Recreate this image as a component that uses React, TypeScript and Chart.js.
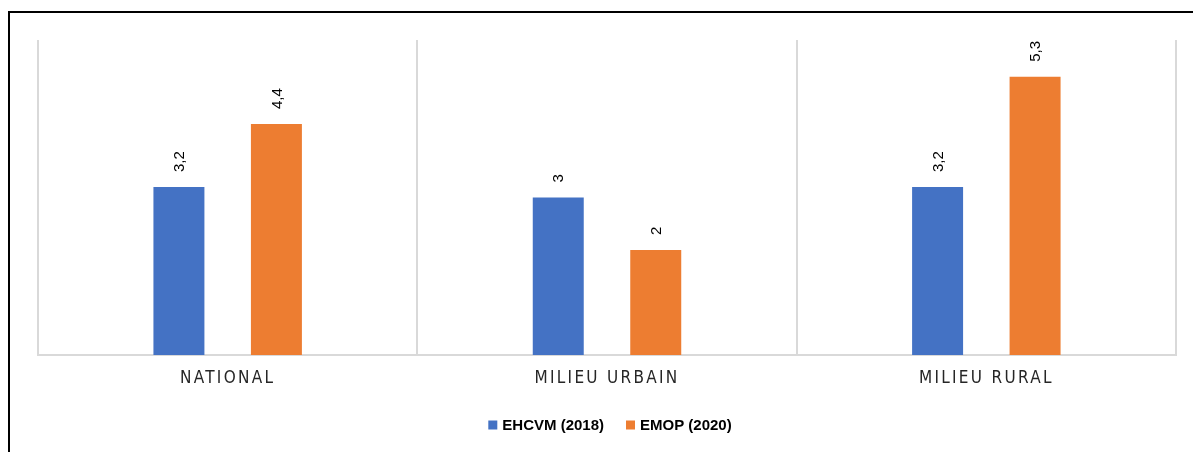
import React, { useEffect, useRef } from "react";
import { Chart, registerables } from "chart.js";

Chart.register(...registerables);

const categories: string[] = ["NATIONAL", "MILIEU URBAIN", "MILIEU RURAL"];
const seriesNames: string[] = ["EHCVM (2018)", "EMOP (2020)"];
const ehcvm2018: number[] = [3.2, 3, 3.2];
const emop2020: number[] = [4.4, 2, 5.3];
const seriesColors: string[] = ["#4472C4", "#ED7D31"];

const fmt = (v: number) => String(v).replace(".", ",");

const customDraw = {
  id: "customDraw",
  afterDatasetsDraw(chart: any) {
    const ctx = chart.ctx as CanvasRenderingContext2D;
    const area = chart.chartArea;
    // value labels (rotated)
    chart.data.datasets.forEach((ds: any, di: number) => {
      const meta = chart.getDatasetMeta(di);
      meta.data.forEach((bar: any, i: number) => {
        const v = ds.data[i];
        ctx.save();
        ctx.translate(bar.x, bar.y - 15);
        ctx.rotate(-Math.PI / 2);
        ctx.font = "15px 'Liberation Sans', Arial, sans-serif";
        ctx.fillStyle = "#000000";
        ctx.textAlign = "left";
        ctx.textBaseline = "middle";
        ctx.fillText(fmt(v), 0, 1);
        ctx.restore();
      });
    });
    // category labels
    const xs = chart.scales.x;
    ctx.save();
    ctx.font = "17px 'Liberation Sans Narrow', 'DejaVu Sans Condensed', sans-serif";
    (ctx as any).letterSpacing = "2.3px";
    ctx.fillStyle = "#262626";
    ctx.textAlign = "center";
    ctx.textBaseline = "middle";
    chart.data.labels.forEach((lab: string, i: number) => {
      ctx.fillText(lab, xs.getPixelForValue(i), area.bottom + 24);
    });
    ctx.restore();
    // legend
    ctx.save();
    ctx.font = "bold 15px 'Liberation Sans', Arial, sans-serif";
    ctx.textBaseline = "middle";
    ctx.textAlign = "left";
    const box = 9;
    const gapText = 5;
    const gapItem = 22;
    const items = chart.data.datasets.map((ds: any) => ({
      label: ds.label,
      color: ds.backgroundColor,
      w: box + gapText + ctx.measureText(ds.label).width,
    }));
    const total = items.reduce((s: number, it: any) => s + it.w, 0) + gapItem * (items.length - 1);
    let x = (area.left + area.right) / 2 - total / 2 + 3;
    const y = area.bottom + 70;
    items.forEach((it: any) => {
      ctx.fillStyle = it.color;
      ctx.fillRect(x, y - box / 2, box, box);
      ctx.fillStyle = "#000000";
      ctx.fillText(it.label, x + box + gapText, y + 1);
      x += it.w + gapItem;
    });
    ctx.restore();
  },
};

export default function App() {
  const ref = useRef<HTMLCanvasElement | null>(null);
  useEffect(() => {
    if (!ref.current) return;
    const chart = new Chart(ref.current, {
      type: "bar",
      data: {
        labels: categories,
        datasets: [
          { label: seriesNames[0], data: ehcvm2018, backgroundColor: seriesColors[0] },
          { label: seriesNames[1], data: emop2020, backgroundColor: seriesColors[1] },
        ],
      },
      options: {
        responsive: false,
        animation: false,
        devicePixelRatio: 1,
        layout: { padding: { left: 28, right: 17, top: 27, bottom: 97 } },
        datasets: {
          bar: { categoryPercentage: 0.514, barPercentage: 0.523 },
        },
        plugins: {
          legend: { display: false },
          tooltip: { enabled: false },
        },
        scales: {
          x: {
            grid: { display: true, color: "#D9D9D9", lineWidth: 2, offset: true, drawTicks: false },
            border: { display: true, color: "#D9D9D9", width: 2 },
            ticks: { display: false },
          },
          y: {
            display: false,
            min: 0,
            max: 6,
          },
        },
      },
      plugins: [customDraw],
    });
    return () => chart.destroy();
  }, []);
  return (
    <div
      style={{
        position: "fixed",
        left: 8,
        top: 11,
        right: 0,
        bottom: 0,
        borderTop: "2px solid #000",
        borderLeft: "2px solid #000",
        boxSizing: "border-box",
        background: "#fff",
      }}
    >
      <canvas ref={ref} width={1183} height={439} style={{ display: "block" }} />
    </div>
  );
}
